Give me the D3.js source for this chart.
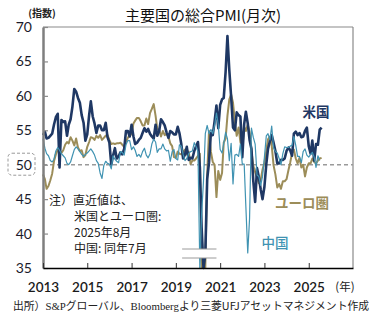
<!DOCTYPE html>
<html><head><meta charset="utf-8">
<script src="https://cdn.jsdelivr.net/npm/d3@7"></script>
<style>
html,body{margin:0;padding:0;background:#fff;}
svg{display:block;}
</style></head>
<body>
<svg id="chart" width="381" height="322"></svg>
<script>
// ---- data (monthly, from Jan 2013) ----
const startYear = 2013;
const usValues = [
54.3,54.8,53.8,53.9,54.2,54.5,55.8,56.9,57.4,49.6,56.5,56.2,
56.3,54.2,55.8,56.6,58.4,61.0,60.6,59.7,59.0,57.2,56.1,53.5,
54.4,57.2,59.2,57.0,56.0,54.6,55.7,55.7,55.0,55.0,56.1,54.0,
53.2,50.0,51.3,52.4,50.9,51.2,51.8,51.5,52.3,54.9,54.9,54.1,
55.8,54.1,53.0,53.2,53.6,53.9,54.6,55.3,54.8,55.2,54.5,54.1,
53.8,55.8,54.2,54.9,56.6,56.2,55.7,54.7,53.9,54.9,54.7,54.4,
54.4,55.5,54.6,53.0,50.9,51.5,52.6,50.7,51.0,50.9,52.0,52.7,
53.3,49.6,40.9,27.0,37.0,47.9,50.3,54.6,54.3,56.3,58.6,55.3,
58.7,59.5,59.7,63.5,68.7,63.7,59.9,55.4,55.0,57.6,57.2,57.0,
51.1,55.9,57.7,56.0,53.6,52.3,47.7,44.6,49.5,48.2,46.4,45.0,
46.8,50.1,52.3,53.4,54.3,53.2,52.0,50.2,50.2,50.7,50.7,50.9,
52.0,52.5,52.1,51.3,54.5,54.8,54.3,54.6,54.0,54.1,54.9,55.4,
52.7,51.6,53.5,50.6,53.0,52.9,55.1,55.4];
const euroValues = [
48.6,47.9,46.5,46.9,47.7,48.7,50.5,51.5,52.2,51.9,51.7,52.1,
52.9,53.3,53.1,54.0,53.5,52.8,53.8,52.5,52.0,52.1,51.1,51.4,
52.6,53.3,54.0,53.9,53.6,54.2,53.9,54.3,53.6,53.9,54.2,54.3,
53.6,53.0,53.1,53.0,53.1,53.1,53.2,52.9,52.6,53.3,53.9,54.4,
54.4,56.0,56.4,56.8,56.8,56.3,55.7,55.7,56.7,55.9,57.5,58.1,
58.8,57.1,55.2,55.1,54.1,54.9,54.3,54.5,54.1,53.1,52.7,51.1,
51.0,51.9,51.6,51.5,51.8,52.2,51.5,51.9,50.1,50.6,50.6,50.9,
51.3,51.6,29.7,13.6,31.9,48.5,54.9,51.9,50.4,50.0,45.3,49.1,
47.8,48.8,53.2,53.8,57.1,59.5,60.2,59.0,56.2,54.2,55.4,53.3,
52.3,55.5,54.9,55.8,54.8,52.0,49.9,48.9,48.1,47.3,47.8,49.3,
50.3,52.0,53.7,54.1,52.8,49.9,48.6,46.7,47.2,46.5,47.6,47.6,
47.9,49.2,50.3,51.7,52.2,50.9,50.2,51.0,49.6,50.0,48.3,49.6,
50.2,50.2,50.9,50.4,50.2,50.6,50.9,51.0];
const chinaValues = [
53.8,52.4,51.6,51.3,50.6,50.4,50.8,52.0,52.5,52.1,51.6,51.3,
51.0,50.2,50.0,50.4,51.3,52.2,52.6,52.3,51.9,51.5,51.2,51.5,
51.7,52.0,52.3,51.9,51.4,50.6,50.2,48.8,48.0,49.9,50.5,50.2,
50.1,49.4,51.3,50.8,50.5,50.3,51.9,51.8,51.4,52.9,53.5,53.5,
52.2,52.6,52.1,51.2,51.5,51.1,51.9,52.4,51.4,51.0,51.6,53.0,
53.7,53.3,51.8,52.3,52.3,53.0,52.3,52.0,52.1,50.5,51.9,52.2,
50.9,50.7,52.9,52.7,51.5,50.6,50.9,51.6,51.9,52.0,53.2,52.6,
51.9,27.5,42.8,47.6,54.5,55.7,54.5,55.1,54.5,55.7,57.5,55.8,
52.2,51.7,53.1,54.7,53.8,50.6,53.1,47.2,51.4,51.5,51.2,53.0,
50.1,50.1,43.9,37.2,42.2,55.3,54.0,53.0,48.5,48.3,47.0,48.3,
51.1,54.2,54.5,53.6,55.6,52.5,51.9,51.7,50.9,50.0,51.6,52.6,
52.5,52.5,52.7,52.8,54.1,52.8,51.2,51.2,50.3,51.9,52.3,51.4,
51.1,51.5,51.8,51.1,49.6,51.3,50.6];
const yTicks = [35,40,45,50,55,60,65,70];
const xTickYears = [2013,2015,2017,2019,2021,2023,2025];
const seriesNames = ["米国","ユーロ圏","中国"];
const noteLines = ["注）直近値は、","米国とユーロ圏:","2025年8月","中国: 同年7月"];
const titleText = "主要国の総合PMI(月次)";
const unitText = "(指数)";
const yearUnit = "(年)";

// ---- layout ----
const svg = d3.select("#chart");
const L = 43, R = 353, T = 27, B = 268;
const jp = "'Noto Sans CJK JP','Noto Sans',sans-serif";
const num = "Lato,'Open Sans',sans-serif";
const cUS = "#1f3864", cEU = "#9c8d59", cCN = "#4093b2";

const x = d3.scaleTime().domain([new Date(2013,0,1), new Date(2027,0,1)]).range([L, R]);
const y = d3.scaleLinear().domain([35,70]).range([B, T]).clamp(true);

const toSeries = vals => vals.map((v,i)=>({date:new Date(startYear, i, 1), v}));
const line = d3.line().x(d=>x(d.date)).y(d=>y(d.v));

// frame top/right
svg.append("line").attr("x1",L).attr("x2",R).attr("y1",T).attr("y2",T).attr("stroke","#8a8a8a").attr("stroke-width",1.2);
svg.append("line").attr("x1",R).attr("x2",R).attr("y1",T).attr("y2",B).attr("stroke","#8a8a8a").attr("stroke-width",1.2);

// 50 reference dashed
svg.append("line").attr("x1",L).attr("x2",R).attr("y1",y(50)).attr("y2",y(50))
  .attr("stroke","#9a9a9a").attr("stroke-width",1.5).attr("stroke-dasharray","4,3");

// series
svg.append("path").datum(toSeries(euroValues)).attr("d",line).attr("fill","none").attr("stroke",cEU).attr("stroke-width",2).attr("stroke-linejoin","round");
svg.append("path").datum(toSeries(usValues)).attr("d",line).attr("fill","none").attr("stroke",cUS).attr("stroke-width",2.6).attr("stroke-linejoin","round");
svg.append("path").datum(toSeries(chinaValues)).attr("d",line).attr("fill","none").attr("stroke",cCN).attr("stroke-width",1.2).attr("stroke-linejoin","round");

// axis break symbol
const bx0 = x(new Date(2019,4,1)) - 1, bx1 = x(new Date(2020,10,1));
svg.append("rect").attr("x",bx0).attr("y",249).attr("width",bx1-bx0).attr("height",9).attr("fill","#fff");
svg.append("line").attr("x1",bx0).attr("x2",bx1).attr("y1",249).attr("y2",249).attr("stroke","#9a9a9a").attr("stroke-width",1);
svg.append("line").attr("x1",bx0).attr("x2",bx1).attr("y1",258).attr("y2",258).attr("stroke","#9a9a9a").attr("stroke-width",1);

// y axis
const yAxis = d3.axisLeft(y).tickValues(yTicks).tickSizeInner(-5).tickSizeOuter(0).tickPadding(11).tickFormat(d3.format("d"));
const gy = svg.append("g").attr("transform",`translate(${L},0)`).call(yAxis);
gy.select(".domain").attr("stroke","#7f7f7f").attr("stroke-width",2.5);
gy.selectAll(".tick line").attr("stroke","#8a8a8a").attr("stroke-width",1.2);
gy.selectAll(".tick text").attr("font-family",num).attr("font-size",14).attr("fill","#1a1a2a");

// box around 50
svg.append("rect").attr("x",8).attr("y",y(50)-11.5).attr("width",27).attr("height",22).attr("rx",4)
  .attr("fill","none").attr("stroke","#9a9a9a").attr("stroke-width",1).attr("stroke-dasharray","3,2");

// x axis
const xAxis = d3.axisBottom(x).tickValues(xTickYears.map(yr=>new Date(yr,0,1))).tickSizeInner(-5).tickSizeOuter(0).tickPadding(14).tickFormat(d3.timeFormat("%Y"));
const gx = svg.append("g").attr("transform",`translate(0,${B})`).call(xAxis);
gx.select(".domain").attr("stroke","#000").attr("stroke-width",1.5);
gx.selectAll(".tick line").attr("stroke","#333").attr("stroke-width",1);
gx.selectAll(".tick text").attr("font-family",num).attr("font-size",13.5).attr("font-weight",600).attr("fill","#1a1a1a");
svg.append("text").attr("x",345).attr("y",291).attr("text-anchor","middle").attr("font-family",jp).attr("font-size",11.5).attr("fill","#222").text(yearUnit);

// title and unit
svg.append("text").attr("x",203).attr("y",21).attr("text-anchor","middle").attr("font-family",jp).attr("font-size",15).attr("font-weight",400).attr("fill","#111").text(titleText);
svg.append("text").attr("x",42).attr("y",17).attr("text-anchor","middle").attr("font-family",jp).attr("font-size",10).attr("font-weight",700).attr("fill","#222").text(unitText);

// series labels
svg.append("text").attr("x",316).attr("y",117).attr("text-anchor","middle").attr("font-family",jp).attr("font-size",13.5).attr("font-weight",700).attr("fill",cUS).text(seriesNames[0]);
svg.append("text").attr("x",302).attr("y",208).attr("text-anchor","middle").attr("font-family",jp).attr("font-size",13.5).attr("font-weight",700).attr("fill",cEU).text(seriesNames[1]);
svg.append("text").attr("x",275).attr("y",248).attr("text-anchor","middle").attr("font-family",jp).attr("font-size",13.5).attr("font-weight",500).attr("fill",cCN).text(seriesNames[2]);

// note
const noteY = [205, 221, 237, 253];
noteLines.forEach((t,i)=>{
  svg.append("text").attr("x", i===0?49:74).attr("y",noteY[i]).attr("font-family",jp).attr("font-size",12).attr("fill","#222").text(t);
});

// source
const src = svg.append("text").attr("x",13).attr("y",310).attr("font-size",10.8).attr("fill","#222").attr("font-family",jp);
src.append("tspan").text("出所）");
src.append("tspan").attr("font-family","'Liberation Serif',serif").text("S&P");
src.append("tspan").text("グローバル、");
src.append("tspan").attr("font-family","'Liberation Serif',serif").text("Bloomberg");
src.append("tspan").text("より三菱UFJアセットマネジメント作成");
</script>
</body></html>
